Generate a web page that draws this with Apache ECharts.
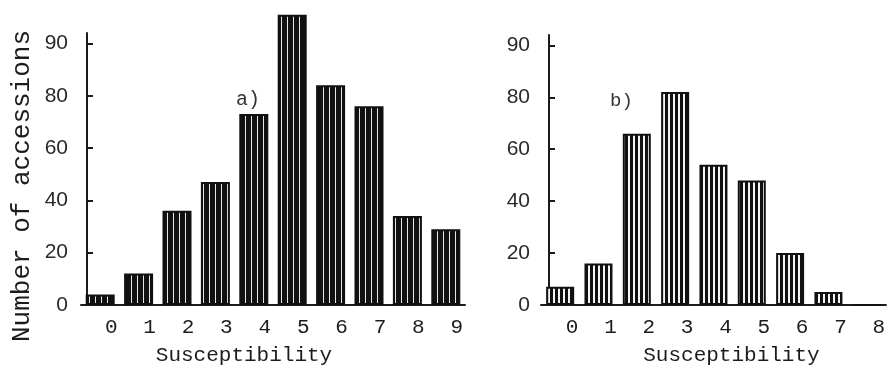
<!DOCTYPE html>
<html>
<head>
<meta charset="utf-8">
<script src="https://cdn.jsdelivr.net/npm/echarts@6/dist/echarts.min.js"></script>
<style>
  html, body { margin: 0; padding: 0; background: #fff; }
  #chart { width: 888px; height: 371px; }
</style>
</head>
<body>
<div id="chart"></div>
<script>
// Panel a): accessions per susceptibility class
const categoriesA = ['0', '1', '2', '3', '4', '5', '6', '7', '8', '9'];
const countsA = [4, 12, 36, 47, 73, 111, 84, 76, 34, 29];

// Panel b)
const categoriesB = ['0', '1', '2', '3', '4', '5', '6', '7', '8'];
const countsB = [7, 16, 66, 82, 54, 48, 20, 5, 0];

// Value-axis ticks and the text printed at each of them
const yTickValues = [0, 20, 40, 60, 80, 100];
const yTickLabels = ['0', '20', '40', '60', '80', '90'];

const MONO = '"Liberation Mono", "DejaVu Sans Mono", monospace';
const SANS = '"Liberation Sans", Arial, sans-serif';
const INK = '#1c1c1c';

// Vertical hatching used to fill the bars
function stripes(period, white, light) {
  const c = document.createElement('canvas');
  c.width = period;
  c.height = 8;
  const g = c.getContext('2d');
  g.fillStyle = '#111';
  g.fillRect(0, 0, period, 8);
  g.fillStyle = light;
  g.fillRect(period - white, 0, white, 8);
  return c;
}
const hatchA = stripes(6, 1, '#e6e6e6');
const hatchB = stripes(5, 2, '#f4f4f4');

function yAxisFor(gridIndex, offset) {
  return {
    type: 'value', gridIndex, min: 0, max: 104, offset,
    splitLine: { show: false },
    axisLine: { show: true, lineStyle: { color: INK, width: 2 } },
    axisTick: { show: true, inside: true, length: 6, customValues: yTickValues,
                lineStyle: { color: INK, width: 2 } },
    axisLabel: {
      customValues: yTickValues,
      formatter: v => yTickLabels[yTickValues.indexOf(v)],
      fontFamily: SANS, fontSize: 21, color: '#2a2a2a', margin: 19
    }
  };
}

function xAxisFor(gridIndex, cats, labelShift, namePad) {
  return {
    type: 'category', gridIndex, data: cats, boundaryGap: true,
    name: 'Susceptibility', nameLocation: 'middle', nameGap: 40,
    nameTextStyle: { fontFamily: MONO, fontSize: 21, color: INK, padding: namePad },
    axisLine: { show: true, lineStyle: { color: INK, width: 2 } },
    axisTick: { show: false },
    axisLabel: { fontFamily: MONO, fontSize: 21, color: INK, margin: 12,
                 padding: [0, 0, 0, labelShift] }
  };
}

const chart = echarts.init(document.getElementById('chart'), null, { renderer: 'canvas' });
chart.setOption({
  animation: false,
  backgroundColor: '#fff',
  title: [
    { text: 'a)', left: 231, top: 85, textStyle: { fontFamily: MONO, fontSize: 20, fontWeight: 'normal', color: '#333' } },
    { text: 'b)', left: 605, top: 86, textStyle: { fontFamily: MONO, fontSize: 19, fontWeight: 'normal', color: '#333' } }
  ],
  grid: [
    { left: 81, top: 33, width: 384, height: 273 },
    { left: 541, top: 35, width: 346, height: 273 }
  ],
  xAxis: [
    xAxisFor(0, categoriesA, 22, [0, 58, 0, 0]),
    xAxisFor(1, categoriesB, 24, [0, 0, 0, 36])
  ],
  yAxis: [
    Object.assign(yAxisFor(0, -6), {
      name: 'Number of accessions', nameLocation: 'middle', nameGap: 52, nameRotate: 90,
      nameTextStyle: { fontFamily: MONO, fontSize: 26, color: INK, padding: [0, 34, 0, 0] }
    }),
    yAxisFor(1, -8)
  ],
  series: [
    {
      type: 'bar', xAxisIndex: 0, yAxisIndex: 0, data: countsA, barWidth: 29, clip: false,
      itemStyle: { color: { image: hatchA, repeat: 'repeat' }, borderColor: '#111', borderWidth: 2 }
    },
    {
      type: 'bar', xAxisIndex: 1, yAxisIndex: 1, data: countsB, barWidth: 28, clip: false,
      itemStyle: { color: { image: hatchB, repeat: 'repeat' }, borderColor: '#111', borderWidth: 2 }
    }
  ]
});
</script>
</body>
</html>
